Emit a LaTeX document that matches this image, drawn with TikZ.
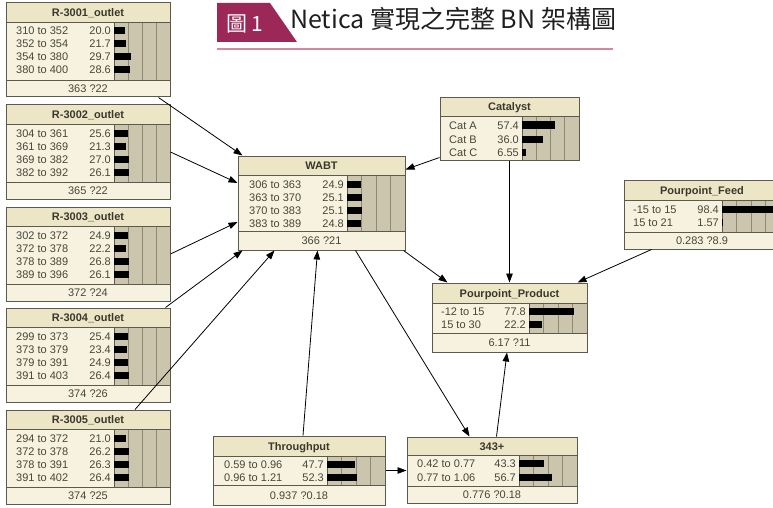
\documentclass[tikz,border=0pt]{standalone}
\usepackage{fontspec}
\setmainfont{Liberation Sans}
\newfontfamily\cjk{Noto Sans CJK TC}
\usetikzlibrary{arrows.meta,calc,fit}
\definecolor{bntitlec}{HTML}{EDE6C6}
\definecolor{bnbodyc}{HTML}{F6F2DF}
\definecolor{bnbarc}{HTML}{CCC5AE}
\definecolor{bngridc}{HTML}{8E8874}
\definecolor{bnframec}{HTML}{5A5A4E}
\definecolor{bntextc}{HTML}{47463A}
\definecolor{figmag}{HTML}{9B2857}
\definecolor{figlinec}{HTML}{D48A9C}
\newcommand\bnnode[9]{%
  % #1 name #2 left #3 top #4 right #5 title bottom #6 table bottom #7 footer bottom #8 bar start #9 title
  \fill[bnbodyc] (#2,#3) rectangle (#4,#7);
  \fill[bntitlec] (#2,#3) rectangle (#4,#5);
  \fill[bnbarc] (#8,#5) rectangle (#4,#6);
  \pgfmathsetmacro\bnbw{#4-#8}
  \foreach \k in {0.25,0.5,0.75} {\draw[bngrid] ({#8+\k*\bnbw},#5) -- ({#8+\k*\bnbw},#6);}
  \draw[bnsep] (#2,#5) -- (#4,#5) (#8,#5) -- (#8,#6);
  \ifdim #7pt>#6pt \draw[bnsep] (#2,#6) -- (#4,#6);\fi
  \coordinate (#1-nw) at (#2,#3);
  \coordinate (#1-se) at (#4,#7);
  \node[bnframe, fit=(#1-nw)(#1-se)] (#1) {};
  \node[bnhead] (#1-title) at ({(#2+#4)/2},{(#3+#5)/2}) {#9};
}
\newcommand\bnrow[7]{%
  % #1 label x #2 bar start #3 bar end #4 y #5 label #6 value #7 percent
  \node[bntxt,anchor=west] at (#1,#4) {#5};
  \node[bntxt,anchor=east] at ({#2-3},#4) {#6};
  \fill[black] (#2,{#4-3.5}) rectangle ({#2+(#3-#2)*#7/100},{#4+3.5});
}
\newcommand\bnfoot[3]{%
  % #1 x #2 y #3 text
  \node[bntxt] at (#1,#2) {#3};
}
\begin{document}
\begin{tikzpicture}[x=1pt,y=-1pt,
  bngrid/.style={bngridc,line width=0.6pt},
  bnsep/.style={bnframec,line width=0.8pt},
  bnframe/.style={draw=bnframec,line width=1pt,inner sep=0pt},
  bnhead/.style={font=\bfseries\fontsize{11}{13}\selectfont,text=bntextc!80!black,inner sep=0pt,text height=8pt,text depth=0pt},
  bntxt/.style={font=\fontsize{11}{13}\selectfont,text=bntextc,inner sep=0pt,text height=8pt,text depth=0pt},
  edge/.style={draw=black,line width=0.8pt,-{Triangle[length=9pt,width=6.5pt]}}]
\useasboundingbox (0,0) rectangle (773,508);
\clip (0,0) rectangle (773,508);
\fill[white] (0,0) rectangle (773,508);

% heading
\fill[figmag] (217,3) -- (270,3) -- (297,42) -- (217,42) -- cycle;
\node[font=\cjk\fontsize{21}{21}\selectfont,text=white,anchor=west,inner sep=0pt] (fignum) at (226,24) {圖 1};
\node[font=\cjk\fontsize{25}{25}\selectfont,text=black!88,anchor=west,inner sep=0pt] (figtitle) at (290,19) {Netica 實現之完整 BN 架構圖};
\draw[figlinec,line width=1.2pt] (217,49) -- (613,49);

% R-3001
\bnnode{r1}{6}{3}{170}{22}{80}{97}{114}{R-3001\_outlet}
\bnrow{16}{114}{170}{31}{310 to 352}{20.0}{20.0}
\bnrow{16}{114}{170}{44}{352 to 354}{21.7}{21.7}
\bnrow{16}{114}{170}{57}{354 to 380}{29.7}{29.7}
\bnrow{16}{114}{170}{70}{380 to 400}{28.6}{28.6}
\bnfoot{88}{88.5}{363 ?22}
% R-3002
\bnnode{r2}{6}{105}{170}{124}{182}{199}{114}{R-3002\_outlet}
\bnrow{16}{114}{170}{133}{304 to 361}{25.6}{25.6}
\bnrow{16}{114}{170}{146}{361 to 369}{21.3}{21.3}
\bnrow{16}{114}{170}{159}{369 to 382}{27.0}{27.0}
\bnrow{16}{114}{170}{172}{382 to 392}{26.1}{26.1}
\bnfoot{88}{190.5}{365 ?22}
% R-3003
\bnnode{r3}{6}{207}{170}{226}{284}{301}{114}{R-3003\_outlet}
\bnrow{16}{114}{170}{235}{302 to 372}{24.9}{24.9}
\bnrow{16}{114}{170}{248}{372 to 378}{22.2}{22.2}
\bnrow{16}{114}{170}{261}{378 to 389}{26.8}{26.8}
\bnrow{16}{114}{170}{274}{389 to 396}{26.1}{26.1}
\bnfoot{88}{292.5}{372 ?24}
% R-3004
\bnnode{r4}{6}{308}{170}{327}{385}{402}{114}{R-3004\_outlet}
\bnrow{16}{114}{170}{336}{299 to 373}{25.4}{25.4}
\bnrow{16}{114}{170}{349}{373 to 379}{23.4}{23.4}
\bnrow{16}{114}{170}{362}{379 to 391}{24.9}{24.9}
\bnrow{16}{114}{170}{375}{391 to 403}{26.4}{26.4}
\bnfoot{88}{393.5}{374 ?26}
% R-3005
\bnnode{r5}{6}{410}{170}{429}{487}{504}{114}{R-3005\_outlet}
\bnrow{16}{114}{170}{438}{294 to 372}{21.0}{21.0}
\bnrow{16}{114}{170}{451}{372 to 378}{26.2}{26.2}
\bnrow{16}{114}{170}{464}{378 to 391}{26.3}{26.3}
\bnrow{16}{114}{170}{477}{391 to 402}{26.4}{26.4}
\bnfoot{88}{495.5}{374 ?25}
% WABT
\bnnode{wabt}{238}{156}{405}{175}{231}{250}{347}{WABT}
\bnrow{249}{347}{405}{184}{306 to 363}{24.9}{24.9}
\bnrow{249}{347}{405}{197}{363 to 370}{25.1}{25.1}
\bnrow{249}{347}{405}{210}{370 to 383}{25.1}{25.1}
\bnrow{249}{347}{405}{223}{383 to 389}{24.8}{24.8}
\bnfoot{321.5}{240.5}{366 ?21}
% Catalyst
\bnnode{cat}{440}{98}{579}{116}{160}{160}{522}{Catalyst}
\bnrow{449}{522}{579}{125}{Cat A}{57.4}{57.4}
\bnrow{449}{522}{579}{139}{Cat B}{36.0}{36.0}
\bnrow{449}{522}{579}{152}{Cat C}{6.55}{6.55}
% Pourpoint_Feed
\bnnode{feed}{624}{180}{780}{200}{232}{249}{722}{Pourpoint\_Feed}
\bnrow{633}{722}{780}{209}{-15 to 15}{98.4}{98.4}
\bnrow{633}{722}{780}{222}{15 to 21}{1.57}{1.57}
\bnfoot{702}{240.5}{0.283 ?8.9}
% Pourpoint_Product
\bnnode{prod}{432}{283}{587}{303}{333}{352}{529}{Pourpoint\_Product}
\bnrow{441}{529}{587}{311}{-12 to 15}{77.8}{77.8}
\bnrow{441}{529}{587}{324}{15 to 30}{22.2}{22.2}
\bnfoot{509.5}{342.5}{6.17 ?11}
% Throughput
\bnnode{tp}{213}{436}{385}{456}{485}{505}{327}{Throughput}
\bnrow{224}{327}{385}{464}{0.59 to 0.96}{47.7}{47.7}
\bnrow{224}{327}{385}{477}{0.96 to 1.21}{52.3}{52.3}
\bnfoot{299}{495}{0.937 ?0.18}
% 343+
\bnnode{t343}{407}{437}{577}{455}{486}{503}{519}{343+}
\bnrow{417}{519}{577}{463}{0.42 to 0.77}{43.3}{43.3}
\bnrow{417}{519}{577}{477}{0.77 to 1.06}{56.7}{56.7}
\bnfoot{492}{494.5}{0.776 ?0.18}

% connectors
\draw[edge] ($(r1.south east)+(-12,0)$) -- ($(wabt.north west)+(5,0)$);
\draw[edge] (r2.east) -- ($(wabt.west)+(0,-20)$);
\draw[edge] (r3.east) -- ($(wabt.west)+(0,19)$);
\draw[edge] ($(r4.north east)+(-5,0)$) -- ($(wabt.south west)+(5,0)$);
\draw[edge] ($(r5.north)+(47,0)$) -- ($(wabt.south west)+(37,0)$);
\draw[edge] ($(tp.north)+(4,0)$) -- ($(wabt.south west)+(80,0)$);
\draw[edge] ($(cat.south west)+(0,-3)$) -- ($(wabt.north east)+(0,14)$);
\draw[edge] (cat.south) -- (prod.north);
\draw[edge] ($(wabt.south east)+(-2,0)$) -- ($(prod.north west)+(16,0)$);
\draw[edge] ($(feed.south west)+(28,0)$) -- ($(prod.north east)+(-10,0)$);
\draw[edge] ($(wabt.south east)+(-50,0)$) -- ($(t343.north west)+(63,0)$);
\draw[edge] ($(t343.north west)+(90,0)$) -- ($(prod.south)+(-2.5,0)$);
\draw[edge] (tp.east) -- (tp.east -| t343.west);
\end{tikzpicture}
\end{document}
